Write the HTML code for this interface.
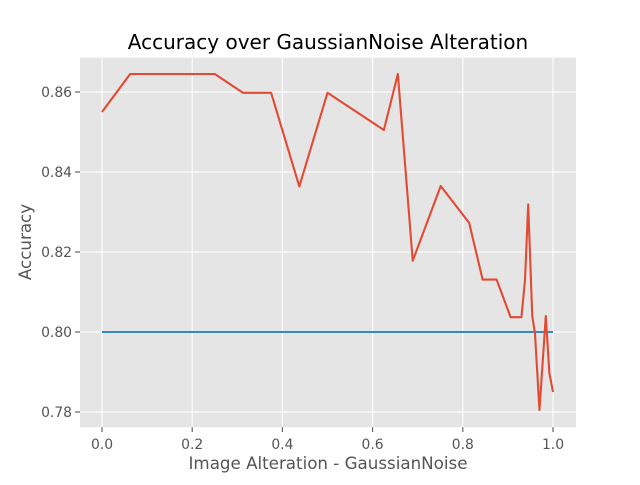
<!DOCTYPE html>
<html><head><meta charset="utf-8"><style>
body{margin:0;background:#fff;font-family:"Liberation Sans","DejaVu Sans",sans-serif}
svg text{font-family:"DejaVu Sans","Liberation Sans",sans-serif}
</style></head><body>
<svg id="chart" width="640" height="480" xmlns="http://www.w3.org/2000/svg">
<rect x="80" y="57.6" width="496" height="369.6" fill="#e5e5e5"/>
<g id="grid"></g><g id="ticks"></g><g id="series"></g>
<text x="328" y="49" text-anchor="middle" font-size="20" fill="#000">Accuracy over GaussianNoise Alteration</text>
<text x="328" y="469" text-anchor="middle" font-size="16.7" fill="#555">Image Alteration - GaussianNoise</text>
<text transform="translate(31,242) rotate(-90)" text-anchor="middle" font-size="16.7" fill="#555">Accuracy</text>
</svg>
<script>
const xs=[0,0.0625,0.25,0.3125,0.375,0.4375,0.5,0.625,0.656,0.689,0.751,0.814,0.844,0.875,0.906,0.93,0.938,0.945,0.954,0.96,0.97,0.984,0.992,1.0];
const accuracy=[0.855,0.8645,0.8645,0.8598,0.8598,0.8364,0.8598,0.8505,0.8645,0.8178,0.8365,0.8273,0.8131,0.8131,0.8037,0.8037,0.8131,0.8319,0.804,0.7997,0.7805,0.804,0.7897,0.785];
const baselineX=[0,1];
const baseline=[0.8,0.8];
const xTicks=[0,0.2,0.4,0.6,0.8,1.0];
const xTickLabels=["0.0","0.2","0.4","0.6","0.8","1.0"];
const yTicks=[0.78,0.80,0.82,0.84,0.86];
const yTickLabels=["0.78","0.80","0.82","0.84","0.86"];
const X=v=>102+(v)*451;
const Y=v=>92+(0.86-v)*4000;
const NS="http://www.w3.org/2000/svg";
function mk(p,t,a){const e=document.createElementNS(NS,t);for(const k in a)e.setAttribute(k,a[k]);p.appendChild(e);return e;}
const grid=document.getElementById('grid'),ticks=document.getElementById('ticks'),series=document.getElementById('series');
xTicks.forEach((v,i)=>{
 const l=mk(grid,'line',{x1:X(v),x2:X(v),y1:57.6,y2:427.2,stroke:'#fff','stroke-width':1.1});
 
 
 const t=mk(ticks,'line',{x1:X(v),x2:X(v),y1:427.2,y2:432,stroke:'#555','stroke-width':1.1});
 
 
 const tx=mk(ticks,'text',{x:X(v),y:449,'text-anchor':'middle','font-size':13.9,fill:'#555'});tx.textContent=xTickLabels[i];
 
 
});
yTicks.forEach((v,i)=>{
 const l=mk(grid,'line',{x1:80,x2:576,y1:Y(v),y2:Y(v),stroke:'#fff','stroke-width':1.1});
 
 
 const t=mk(ticks,'line',{x1:75,x2:80,y1:Y(v),y2:Y(v),stroke:'#555','stroke-width':1.1});
 
 
 const tx=mk(ticks,'text',{x:72,y:Y(v)+5,'text-anchor':'end','font-size':13.9,fill:'#555'});tx.textContent=yTickLabels[i];
 
 
});
const b=mk(series,'polyline',{points:baselineX.map((x,i)=>X(x)+','+Y(baseline[i])).join(' '),fill:'none',stroke:'#348abd','stroke-width':2.1});


const a=mk(series,'polyline',{points:xs.map((x,i)=>X(x)+','+Y(accuracy[i])).join(' '),fill:'none',stroke:'#e24a33','stroke-width':2.1,'stroke-linejoin':'round'});


</script>
</body></html>
